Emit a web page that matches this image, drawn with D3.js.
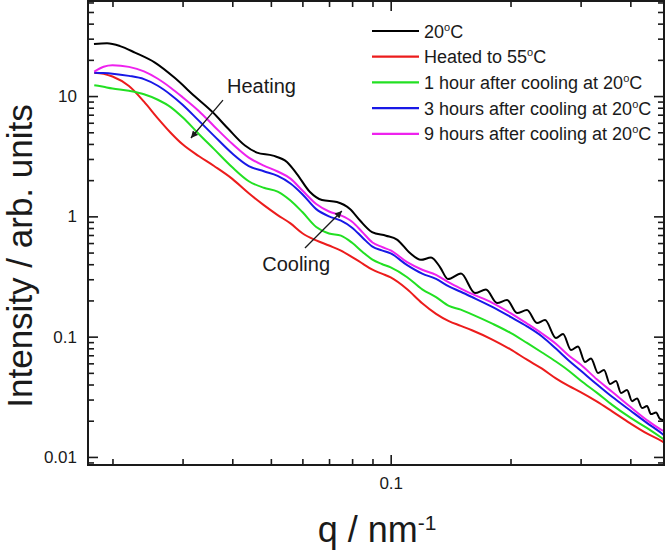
<!DOCTYPE html>
<html><head><meta charset="utf-8">
<script src="https://cdn.jsdelivr.net/npm/d3@7"></script>
<style>
body{margin:0;background:#fff}
svg{display:block}
text{font-family:"Liberation Sans",Arial,Helvetica,sans-serif;fill:#1a1a1a}
</style>
</head><body>
<svg id="chart" width="666" height="553"></svg>
<script>
// ---- data (q in nm^-1, intensity in arb. units) ----
const qGrid = [0.018,0.019,0.020,0.022,0.024,0.026,0.028,0.030,0.033,0.036,0.040,0.044,0.048,0.052,0.056,0.060,0.065,0.070,0.075,0.080,0.085,0.090,0.095,0.100,0.110,0.120,0.130,0.140,0.150,0.160,0.180,0.200,0.220,0.240,0.260,0.280,0.300,0.330,0.360,0.400,0.440,0.480,0.488];
const q20C = [0.01797,0.01938,0.02089,0.02278,0.02557,0.02871,0.03224,0.03577,0.03902,0.04305,0.04613,0.05062,0.05487,0.05815,0.0627,0.06721,0.07327,0.07901,0.08375,0.08977,0.09732,0.1037,0.1118,0.1191,0.1263,0.1330,0.1393,0.1502,0.1628,0.1735,0.1850,0.1960,0.2077,0.2200,0.2331,0.2442,0.2602,0.2710,0.2838,0.2955,0.3077,0.3186,0.3318,0.3435,0.3556,0.3682,0.3790,0.3924,0.4040,0.4158,0.4280,0.4406,0.4508,0.4641,0.4750,0.488];
const I20C = [27.06,27.42,26.03,22.99,18.98,14.11,9.90,7.29,5.37,3.88,3.39,3.20,2.83,2.247,1.592,1.366,1.315,1.150,0.923,0.741,0.690,0.641,0.4954,0.4350,0.4546,0.379,0.3012,0.3346,0.2304,0.2463,0.1903,0.2015,0.1571,0.1664,0.1298,0.1374,0.0974,0.1051,0.0774,0.0827,0.0615,0.0658,0.0498,0.0528,0.0404,0.0427,0.0340,0.0360,0.0291,0.0306,0.0255,0.0265,0.0227,0.0234,0.0207,0.0201];
const IHeated55 = [15.62,15.29,14.53,12.11,8.98,6.53,4.96,3.97,3.16,2.62,2.05,1.556,1.239,1.025,0.874,0.724,0.631,0.572,0.519,0.458,0.405,0.360,0.334,0.3105,0.2477,0.1895,0.1547,0.1345,0.1230,0.1130,0.0946,0.0783,0.0643,0.0542,0.0450,0.0389,0.0346,0.0288,0.0239,0.0190,0.01568,0.01351,0.01307];
const I1hCool = [12.32,11.93,11.57,11.05,10.35,9.32,8.10,6.66,4.82,3.62,2.555,1.958,1.728,1.608,1.356,1.086,0.816,0.721,0.691,0.603,0.506,0.437,0.402,0.376,0.312,0.247,0.213,0.180,0.1677,0.1532,0.1283,0.1075,0.0886,0.0738,0.0621,0.0521,0.0432,0.0341,0.0271,0.0212,0.01745,0.01436,0.01382];
const I3hCool = [15.62,15.53,15.36,14.72,13.82,12.18,10.27,8.48,6.22,4.67,3.33,2.62,2.37,2.17,1.877,1.529,1.148,0.998,0.921,0.805,0.665,0.560,0.521,0.4916,0.393,0.334,0.302,0.2614,0.2361,0.2135,0.1766,0.1458,0.1218,0.1004,0.0796,0.0634,0.0523,0.0400,0.0316,0.0243,0.0192,0.01565,0.01497];
const I9hCool = [15.98,17.55,18.06,17.49,16.04,13.93,11.74,9.79,7.49,5.62,4.01,3.08,2.64,2.36,2.06,1.64,1.265,1.098,1.017,0.902,0.736,0.606,0.557,0.521,0.416,0.360,0.326,0.282,0.251,0.227,0.191,0.157,0.1285,0.1061,0.0873,0.0698,0.0586,0.0440,0.0348,0.0261,0.0203,0.01673,0.01626];

const legendPrefix = ["20","Heated to 55","1 hour after cooling at 20","3 hours after cooling at 20","9 hours after cooling at 20"];
const seriesColors = ["#000000","#ec1c1c","#22e022","#1818e6","#ee22ee"];
const yMajorTicks = [0.01,0.1,1,10];
const yTickLabels = ["0.01","0.1","1","10"];
const xMajorTicks = [0.1];
const xTickLabels = ["0.1"];
const xDomain = [0.01736,0.486];
const yDomain = [0.00857,61.7];

// ---- layout ----
const L=88, R=664, T=1, B=465;
const svg = d3.select("#chart");
const x = d3.scaleLog().domain(xDomain).range([L,R]);
const y = d3.scaleLog().domain(yDomain).range([B,T]);

const isMajor = v => Math.abs(Math.log10(v) - Math.round(Math.log10(v))) < 1e-6;
const xMinor = x.ticks().filter(v => !isMajor(v));
const yMinor = y.ticks().filter(v => !isMajor(v));

// clip
svg.append("defs").append("clipPath").attr("id","clip")
  .append("rect").attr("x",L).attr("y",T).attr("width",R-L).attr("height",B-T);

// series
const series = [
  {q:q20C, v:I20C},
  {q:qGrid, v:IHeated55},
  {q:qGrid, v:I1hCool},
  {q:qGrid, v:I3hCool},
  {q:qGrid, v:I9hCool}
];
const line = d3.line().x(d=>x(d[0])).y(d=>y(d[1])).curve(d3.curveMonotoneX);
const gLines = svg.append("g").attr("clip-path","url(#clip)");
series.forEach((s,i)=>{
  gLines.append("path")
    .datum(s.q.map((q,j)=>[q,s.v[j]]))
    .attr("d",line).attr("fill","none")
    .attr("stroke",seriesColors[i]).attr("stroke-width",2)
    .attr("stroke-linejoin","round");
});

// axes
function styleAxis(g){
  g.select(".domain").remove();
  g.selectAll(".tick line").attr("stroke","#1a1a1a").attr("stroke-width",1.6);
  g.selectAll("text").attr("fill","#1a1a1a").style("font-size","17px")
   .style("font-family",'"Liberation Sans",Arial,sans-serif');
}
const fmtY = d => yTickLabels[yMajorTicks.indexOf(d)];
const fmtX = d => xTickLabels[xMajorTicks.indexOf(d)];

svg.append("g").attr("transform",`translate(${L},0)`)
  .call(d3.axisLeft(y).tickValues(yMajorTicks).tickFormat(fmtY).tickSizeInner(-10).tickSizeOuter(0).tickPadding(11)).call(styleAxis);
svg.append("g").attr("transform",`translate(${L},0)`)
  .call(d3.axisLeft(y).tickValues(yMinor).tickFormat("").tickSizeInner(-6).tickSizeOuter(0)).call(styleAxis);
svg.append("g").attr("transform",`translate(${R},0)`)
  .call(d3.axisRight(y).tickValues(yMajorTicks).tickFormat("").tickSizeInner(-10).tickSizeOuter(0)).call(styleAxis);
svg.append("g").attr("transform",`translate(${R},0)`)
  .call(d3.axisRight(y).tickValues(yMinor).tickFormat("").tickSizeInner(-6).tickSizeOuter(0)).call(styleAxis);
svg.append("g").attr("transform",`translate(0,${B})`)
  .call(d3.axisBottom(x).tickValues(xMajorTicks).tickFormat(fmtX).tickSizeInner(-10).tickSizeOuter(0).tickPadding(12)).call(styleAxis);
svg.append("g").attr("transform",`translate(0,${B})`)
  .call(d3.axisBottom(x).tickValues(xMinor).tickFormat("").tickSizeInner(-6).tickSizeOuter(0)).call(styleAxis);
svg.append("g").attr("transform",`translate(0,${T})`)
  .call(d3.axisTop(x).tickValues(xMajorTicks).tickFormat("").tickSizeInner(-10).tickSizeOuter(0)).call(styleAxis);
svg.append("g").attr("transform",`translate(0,${T})`)
  .call(d3.axisTop(x).tickValues(xMinor).tickFormat("").tickSizeInner(-6).tickSizeOuter(0)).call(styleAxis);

// frame
svg.append("rect").attr("x",L).attr("y",T).attr("width",R-L).attr("height",B-T)
  .attr("fill","none").attr("stroke","#1a1a1a").attr("stroke-width",2);

// axis titles
const xt = svg.append("text").attr("x",(L+R)/2+1).attr("y",541.5).attr("text-anchor","middle").style("font-size","36px");
xt.append("tspan").text("q / nm");
xt.append("tspan").attr("dy",-12).style("font-size","21px").text("-1");
svg.append("text").attr("transform","translate(32,256) rotate(-90)")
  .attr("text-anchor","middle").style("font-size","35px").text("Intensity / arb. units");

// legend
const lg = svg.append("g");
legendPrefix.forEach((p,i)=>{
  const yy = 31 + i*25.7;
  lg.append("line").attr("x1",372).attr("x2",419).attr("y1",yy).attr("y2",yy)
    .attr("stroke",seriesColors[i]).attr("stroke-width",2.2);
  const t = lg.append("text").attr("x",424).attr("y",yy+6.5).style("font-size","18px");
  t.append("tspan").text(p);
  t.append("tspan").attr("dy",-7).style("font-size","11px").text("o");
  t.append("tspan").attr("dy",7).text("C");
});

// annotations (anchored in data coordinates)
const defs = svg.select("defs");
defs.append("marker").attr("id","arrow").attr("viewBox","0 0 10 10")
  .attr("refX",10).attr("refY",5).attr("markerWidth",9).attr("markerHeight",7)
  .attr("markerUnits","userSpaceOnUse").attr("orient","auto")
  .append("path").attr("d","M0,0L10,5L0,10z").attr("fill","#1a1a1a");
const arrows = [
  {from:[0.0379,9.26], to:[0.03149,4.48]},
  {from:[0.0609,0.545], to:[0.0754,1.107]}
];
arrows.forEach(a=>{
  svg.append("line").attr("x1",x(a.from[0])).attr("y1",y(a.from[1]))
    .attr("x2",x(a.to[0])).attr("y2",y(a.to[1]))
    .attr("stroke","#1a1a1a").attr("stroke-width",1.3).attr("marker-end","url(#arrow)");
});
svg.append("text").attr("x",x(0.0388)).attr("y",y(10.59)).style("font-size","20px").text("Heating");
svg.append("text").attr("x",x(0.04756)).attr("y",y(0.351)).style("font-size","20px").text("Cooling");
</script>
</body></html>
